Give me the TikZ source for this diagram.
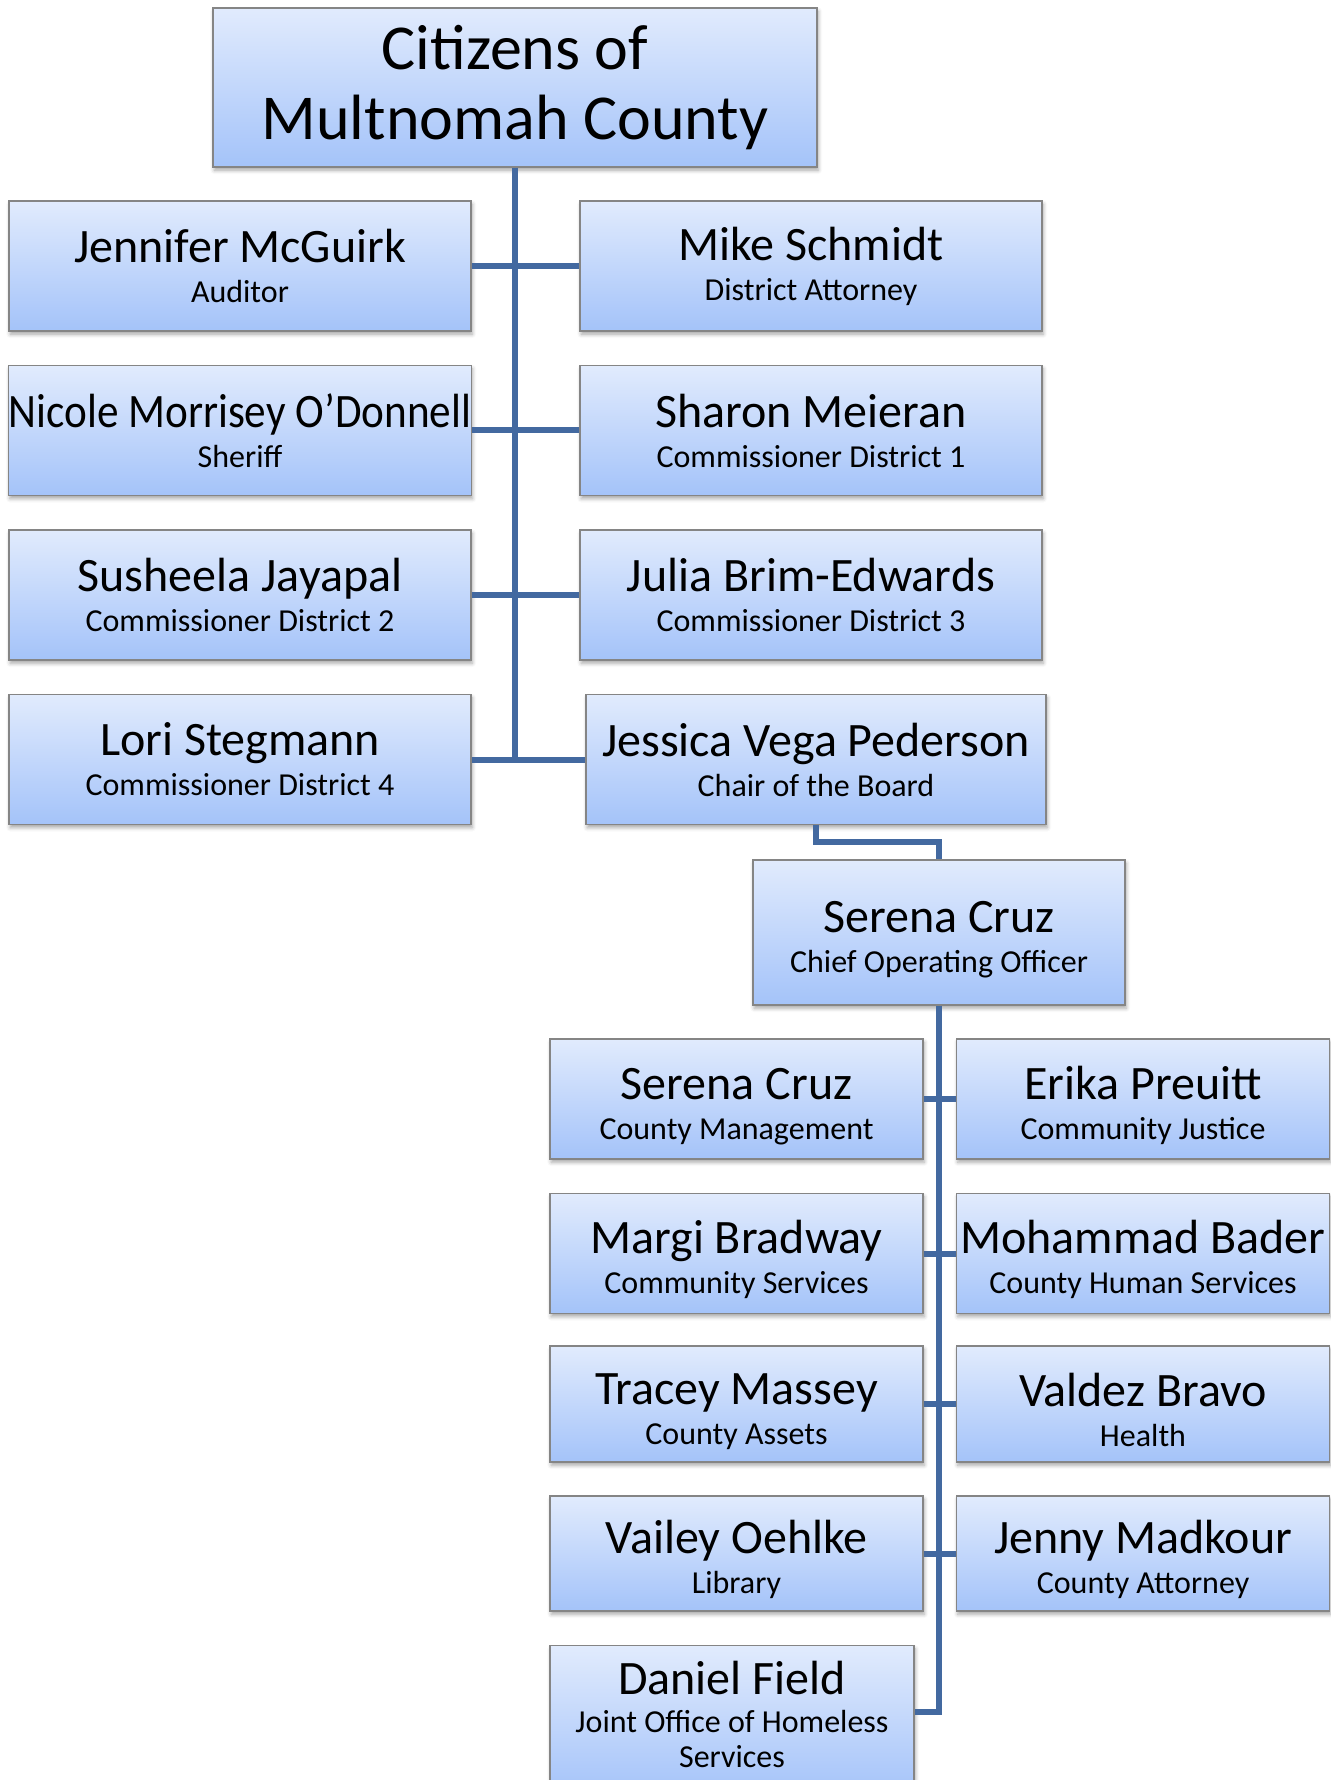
\documentclass[tikz,border=0pt]{standalone}
\usepackage{fontspec}
\setmainfont{Carlito}
\usepackage{graphicx}
\usepackage{tikz}
\usetikzlibrary{calc, shadows.blur}

\definecolor{boxtop}{HTML}{E1EBFD}
\definecolor{boxbot}{HTML}{A4C3F9}
\definecolor{boxline}{HTML}{858585}
\definecolor{linkblue}{HTML}{4369A0}

\newcommand{\namefont}{\fontsize{24}{20}\selectfont}
\newcommand{\subfont}{\fontsize{16}{20}\selectfont}
\newcommand{\person}[2]{{\namefont #1}\\{\subfont #2}}

\tikzset{
	unit/.style = {draw = boxline, line width = 0.7pt, top color = boxtop, bottom color = boxbot,
		inner sep = 0pt, align = center, font = \subfont,
		blur shadow = {shadow xshift = 0.6pt, shadow yshift = -1.6pt, shadow blur steps = 4, shadow opacity = 35}},
	board/.style = {unit, minimum width = 231pt, minimum height = 65pt},
	dept/.style = {unit, minimum width = 186.5pt, minimum height = 60pt, text height = 43pt},
	link/.style = {draw = linkblue, line width = 3pt}
}

\begin{document}
\begin{tikzpicture}[x = 0.5pt, y = -0.5pt]
			\def\colL{240};
			\def\colR{811};
			\def\subL{736.5};
			\def\subR{1143};

			\useasboundingbox (0,0) rectangle (1330,1780);

			\begin{scope}
				\node [unit, minimum width = 302pt, minimum height = 79.5pt, font = \fontsize{32}{35}\selectfont] (citizens) at (515,87.5) {Citizens of\\Multnomah County};

				\node [board] (auditor) at (\colL,266) {\person{Jennifer McGuirk}{Auditor}};
				\node [board] (da) at (\colR,266) {\person{Mike Schmidt}{District Attorney}};
				\node [board] (sheriff) at (\colL,430.5) {\person{\scalebox{0.9}[1]{Nicole Morrisey O’Donnell}}{Sheriff}};
				\node [board] (dist1) at (\colR,430.5) {\person{Sharon Meieran}{Commissioner District 1}};
				\node [board] (dist2) at (\colL,595) {\person{Susheela Jayapal}{Commissioner District 2}};
				\node [board] (dist3) at (\colR,595) {\person{Julia Brim-Edwards}{Commissioner District 3}};
				\node [board] (dist4) at (\colL,759.5) {\person{Lori Stegmann}{Commissioner District 4}};
				\node [board, minimum width = 230pt] (chair) at (816,759.5) {\person{Jessica Vega Pederson}{Chair of the Board}};

				\node [unit, minimum width = 186pt, minimum height = 72.5pt, text height = 43pt] (coo) at (939,932.5) {\person{Serena Cruz}{Chief Operating Officer}};

				\node [dept] (mgmt) at (\subL,1099) {\person{Serena Cruz}{County Management}};
				\node [dept] (justice) at (\subR,1099) {\person{Erika Preuitt}{Community Justice}};
				\node [dept] (commserv) at (\subL,1253.5) {\person{Margi Bradway}{Community Services}};
				\node [dept] (human) at (\subR,1253.5) {\person{Mohammad Bader}{County Human Services}};
				\node [dept, minimum height = 58pt] (assets) at (\subL,1404) {\person{Tracey Massey}{County Assets}};
				\node [dept, minimum height = 58pt] (health) at (\subR,1404) {\person{Valdez Bravo}{Health}};
				\node [dept, minimum height = 57.5pt] (library) at (\subL,1553.5) {\person{Vailey Oehlke}{Library}};
				\node [dept, minimum height = 57.5pt] (attorney) at (\subR,1553.5) {\person{Jenny Madkour}{County Attorney}};
				\node [unit, minimum width = 182pt, minimum height = 75pt, text height = 47pt, anchor = north] (homeless) at (732,1645) {{\namefont Daniel Field}\\[-1pt]Joint Office of Homeless\\[-2.5pt]Services};
			\end{scope}

			\begin{scope}[link]
				\draw (citizens.south) -- (citizens.south |- dist4.east);
				\draw (auditor.east) -- (da.west);
				\draw (sheriff.east) -- (dist1.west);
				\draw (dist2.east) -- (dist3.west);
				\draw (dist4.east) -- (chair.west);

				\draw (chair.south) |- ($ (chair.south)!0.5!(coo.north) $) -| (coo.north);

				\draw (coo.south) |- ([yshift = 4.5pt]homeless.east);
				\draw (mgmt.east) -- (justice.west);
				\draw (commserv.east) -- (human.west);
				\draw (assets.east) -- (health.west);
				\draw (library.east) -- (attorney.west);
			\end{scope}
		\end{tikzpicture}
\end{document}
